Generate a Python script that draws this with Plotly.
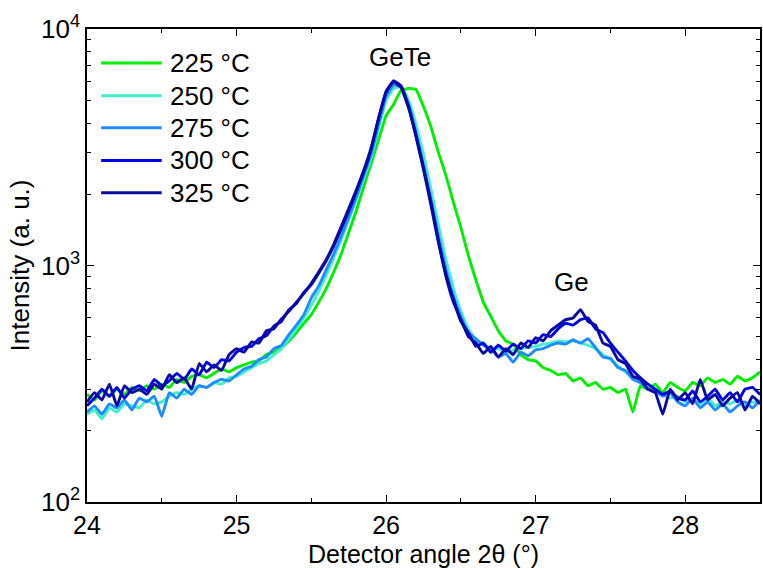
import numpy as np
import plotly.graph_objects as go

# x grid (detector angle 2theta, degrees)
two_theta = [round(24.0 + 0.05 * i, 2) for i in range(91)]

temps = ["225 °C", "250 °C", "275 °C", "300 °C", "325 °C"]
colors = ["#00EE00", "#40F0C8", "#1E8CFF", "#0000E6", "#0A0AA0"]

i_225 = [285, 270, 295, 280, 300, 285, 305, 295, 310, 300,
         315, 305, 330, 320, 340, 345, 335, 350, 365, 355,
         370, 380, 390, 395, 420, 430, 450, 480, 520, 570,
         620, 700, 800, 940, 1120, 1380, 1700, 2150, 2700, 3400,
         4300, 4800, 5500, 5600, 5550, 4700, 3850, 3000, 2400, 1850,
         1450, 1100, 870, 700, 610, 530, 480, 465, 420, 400,
         395, 370, 360, 345, 350, 325, 335, 310, 320, 300,
         305, 290, 300, 240, 310, 300, 315, 290, 320, 305,
         295, 320, 310, 335, 320, 330, 315, 340, 325, 335, 355]

i_250 = [235, 245, 225, 250, 240, 260, 255, 250, 270, 260,
         265, 280, 290, 285, 300, 310, 305, 320, 315, 335,
         340, 355, 370, 385, 395, 420, 445, 490, 540, 600,
         680, 780, 910, 1080, 1290, 1560, 1900, 2320, 2850, 3800,
         5000, 5600, 5700, 5000, 3950, 2950, 2100, 1480, 1060, 800,
         640, 540, 480, 470, 440, 445, 430, 440, 445, 450,
         455, 465, 470, 480, 475, 480, 470, 460, 445, 420,
         400, 375, 355, 335, 320, 305, 290, 285, 275, 280,
         265, 270, 260, 275, 255, 265, 260, 270, 255, 265, 260]

i_275 = [240, 255, 235, 260, 250, 270, 245, 275, 265, 280,
         230, 290, 275, 300, 285, 310, 305, 320, 330, 325,
         345, 365, 375, 400, 410, 445, 460, 510, 560, 620,
         730, 820, 960, 1120, 1330, 1600, 1950, 2400, 2950, 3950,
         5200, 5800, 5700, 4800, 3650, 2650, 1900, 1330, 960, 740,
         610, 520, 490, 460, 445, 410, 425, 390, 430, 415,
         440, 445, 460, 470, 465, 485, 470, 490, 450, 410,
         405, 370, 360, 330, 320, 300, 295, 280, 290, 265,
         255, 275, 250, 265, 245, 260, 240, 255, 265, 250, 270]

i_300 = [255, 275, 300, 280, 305, 275, 300, 310, 295, 330,
         310, 325, 350, 330, 365, 345, 390, 370, 400, 395,
         430, 450, 455, 490, 505, 555, 580, 650, 690, 770,
         830, 930, 1050, 1210, 1430, 1700, 2050, 2480, 3100, 4200,
         5450, 6050, 5750, 4700, 3550, 2600, 1850, 1270, 920, 720,
         580, 520, 455, 470, 430, 460, 435, 465, 445, 480,
         470, 510, 500, 540, 570, 560, 590, 600, 540, 520,
         470, 430, 395, 360, 335, 315, 300, 285, 295, 275,
         270, 295, 265, 280, 300, 270, 290, 265, 300, 305, 285]

i_325 = [265, 290, 270, 315, 255, 310, 290, 300, 285, 315,
         300, 345, 320, 335, 300, 385, 355, 380, 360, 420,
         445, 430, 475, 470, 530, 540, 595, 640, 700, 760,
         840, 940, 1060, 1230, 1460, 1740, 2080, 2520, 3150, 4200,
         5400, 6000, 5650, 4650, 3500, 2550, 1800, 1250, 900, 700,
         590, 500, 470, 425, 455, 410, 445, 420, 470, 450,
         495, 480, 530, 560, 590, 600, 650, 580, 560, 470,
         455, 400, 385, 340, 330, 300, 290, 235, 300, 270,
         290, 260, 330, 270, 285, 255, 275, 290, 245, 280, 260]

series = [i_225, i_250, i_275, i_300, i_325]

FONT = "Liberation Sans, Arial, sans-serif"
FS = 26

fig = go.Figure()
for name, col, ys in zip(temps, colors, series):
    fig.add_trace(go.Scatter(x=two_theta, y=ys, mode="lines", name=name,
                             line=dict(color=col, width=2.9, shape="spline", smoothing=0.3),
                             showlegend=False))

# manual legend (long line samples)
leg_y = [0.928, 0.859, 0.791, 0.722, 0.654]
for name, col, ly in zip(temps, colors, leg_y):
    fig.add_shape(type="line", xref="paper", yref="paper",
                  x0=0.021, x1=0.111, y0=ly, y1=ly,
                  line=dict(color=col, width=3))
    fig.add_annotation(xref="paper", yref="paper", x=0.121, y=ly,
                       text=name, showarrow=False, xanchor="left",
                       yanchor="middle", font=dict(size=FS, color="black", family=FONT))

fig.add_annotation(x=26.095, y=3.88, text="GeTe", showarrow=False,
                   font=dict(size=FS, color="black", family=FONT))
fig.add_annotation(x=27.24, y=2.93, text="Ge", showarrow=False,
                   font=dict(size=FS, color="black", family=FONT))

fig.update_layout(
    width=763, height=568,
    margin=dict(l=87, r=1, t=29, b=66),
    paper_bgcolor="white", plot_bgcolor="white",
    font=dict(family=FONT, size=FS, color="black"),
)
fig.update_xaxes(
    range=[24, 28.5], tickvals=[24, 25, 26, 27, 28],
    ticks="inside", ticklen=7, tickwidth=1, tickcolor="black",
    showline=True, linecolor="black", linewidth=1.5, mirror="allticks",
    showgrid=False, zeroline=False,
    minor=dict(ticks="inside", ticklen=4, dtick=0.5, tick0=24, tickcolor="black", showgrid=False),
    title=dict(text="Detector angle 2θ (°)", standoff=9, font=dict(size=25)),
    tickfont=dict(size=25),
)
fig.update_yaxes(
    type="log", range=[2, 4],
    tickvals=[100, 1000, 10000],
    ticktext=["10<sup>2</sup>", "10<sup>3</sup>", "10<sup>4</sup>"],
    ticks="inside", ticklen=7, tickwidth=1, tickcolor="black",
    showline=True, linecolor="black", linewidth=1.5, mirror="allticks",
    showgrid=False, zeroline=False,
    minor=dict(ticks="inside", ticklen=4, dtick="D1", tickcolor="black", showgrid=False),
    title=dict(text="Intensity (a. u.)", standoff=4, font=dict(size=FS)),
    tickfont=dict(size=FS),
)

fig.write_html("out.html")
